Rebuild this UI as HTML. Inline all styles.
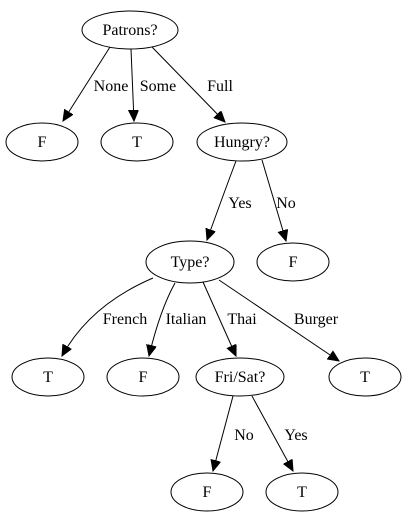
<!DOCTYPE html>
<html><head><meta charset="utf-8"><style>
html,body{margin:0;padding:0;background:#fff;}
svg{display:block;}
</style></head><body>
<svg width="407" height="523" viewBox="0 0 407 523" xmlns="http://www.w3.org/2000/svg">
<defs>
<marker id="a" markerUnits="userSpaceOnUse" markerWidth="12" markerHeight="12" refX="11" refY="5" orient="auto">
<path d="M0,0 L11,5 L0,10 Z" fill="#000" stroke="#000"/>
</marker>
</defs>
<g fill="none" stroke="#000" stroke-width="1">
<ellipse cx="130" cy="30" rx="48" ry="19"/>
<ellipse cx="42" cy="142" rx="36" ry="19"/>
<ellipse cx="137" cy="142" rx="36" ry="19"/>
<ellipse cx="242" cy="142" rx="45" ry="19"/>
<ellipse cx="190" cy="262" rx="44" ry="21"/>
<ellipse cx="293" cy="262" rx="36" ry="19"/>
<ellipse cx="48" cy="377" rx="36" ry="19"/>
<ellipse cx="143" cy="377" rx="36" ry="19"/>
<ellipse cx="240" cy="377" rx="44" ry="19"/>
<ellipse cx="365" cy="377" rx="36" ry="19"/>
<ellipse cx="207" cy="492" rx="36" ry="19"/>
<ellipse cx="302" cy="492" rx="36" ry="19"/>
<path d="M110,47 L63,121" marker-end="url(#a)"/>
<path d="M131,49 L134,121" marker-end="url(#a)"/>
<path d="M152,47 L225,122" marker-end="url(#a)"/>
<path d="M236,161 Q225,190 207,240" marker-end="url(#a)"/>
<path d="M262,160 L286,241" marker-end="url(#a)"/>
<path d="M153,278 Q90,305 62,356" marker-end="url(#a)"/>
<path d="M175,283 Q160,310 149,356" marker-end="url(#a)"/>
<path d="M203,282 L236,356" marker-end="url(#a)"/>
<path d="M219,280 L339,361" marker-end="url(#a)"/>
<path d="M233,396 L213,471" marker-end="url(#a)"/>
<path d="M252,396 L293,471" marker-end="url(#a)"/>
</g>
<g text-anchor="middle" font-family="Liberation Serif, serif" font-size="16" fill="#000">
<text x="130" y="35">Patrons?</text>
<text x="42" y="147">F</text>
<text x="137" y="147">T</text>
<text x="242" y="147">Hungry?</text>
<text x="190" y="267">Type?</text>
<text x="293" y="267">F</text>
<text x="48" y="382">T</text>
<text x="143" y="382">F</text>
<text x="240" y="382">Fri/Sat?</text>
<text x="365" y="382">T</text>
<text x="207" y="497">F</text>
<text x="302" y="497">T</text>
<text x="111" y="91">None</text>
<text x="158" y="91">Some</text>
<text x="220" y="91">Full</text>
<text x="240" y="208">Yes</text>
<text x="286" y="208">No</text>
<text x="125" y="324">French</text>
<text x="186" y="324">Italian</text>
<text x="242" y="324">Thai</text>
<text x="316" y="324">Burger</text>
<text x="244" y="440">No</text>
<text x="296" y="440">Yes</text>
</g>
</svg>
</body></html>
